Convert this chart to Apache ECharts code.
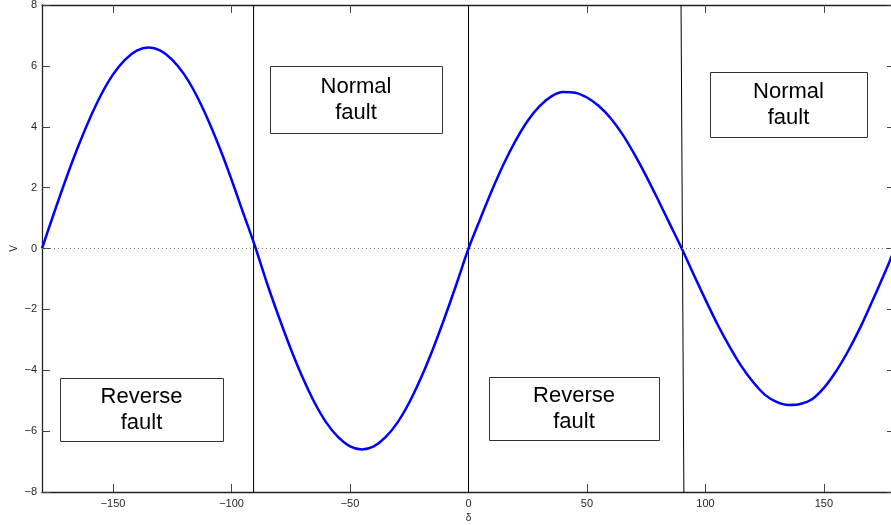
<!DOCTYPE html>
<html>
<head>
<meta charset="utf-8">
<script src="https://cdn.jsdelivr.net/npm/echarts@6/dist/echarts.min.js"></script>
<style>
  html, body { margin: 0; padding: 0; background: #fff; }
  #chart { width: 891px; height: 525px; }
</style>
</head>
<body>
<div id="chart"></div>
<script>
// delta (deg) and V
var delta = [-180,-175,-170,-165,-160,-155,-150,-145,-140,-135,-130,-125,-120,-115,-110,-105,-100,-95,-90,
  -85,-80,-75,-70,-65,-60,-55,-50,-45,-40,-35,-30,-25,-20,-15,-10,-5,0,
  5,10,15,20,25,30,35,40,45,50,55,60,65,70,75,80,85,90,
  95,100,105,110,115,120,125,130,135,140,145,150,155,160,165,170,175,180];
var V = [0,1.15,2.26,3.30,4.24,5.06,5.72,6.20,6.50,6.60,6.50,6.20,5.72,5.06,4.24,3.30,2.26,1.15,0.05,
  -1.15,-2.26,-3.30,-4.24,-5.06,-5.72,-6.20,-6.50,-6.60,-6.50,-6.20,-5.72,-5.06,-4.24,-3.30,-2.26,-1.15,0,
  0.98,1.93,2.80,3.56,4.20,4.68,5.00,5.14,5.12,4.96,4.68,4.28,3.75,3.10,2.38,1.60,0.80,0,
  -0.85,-1.68,-2.48,-3.20,-3.85,-4.38,-4.80,-5.04,-5.14,-5.11,-4.95,-4.58,-4.05,-3.40,-2.65,-1.80,-0.92,0];

// fault boundaries (top x, bottom x)
var boundaryTop = [-90.7, 0, 89.7];
var boundaryBottom = [-90.7, 0, 90.9];

var xTicks = [-150, -100, -50, 0, 50, 100, 150];
var boxLabels = ['Normal\nfault', 'Normal\nfault', 'Reverse\nfault', 'Reverse\nfault'];
var boxRects = [[270, 66, 172, 67], [710, 72, 157, 65], [60, 378, 163, 63], [489, 377, 170, 63]];

var chart = echarts.init(document.getElementById('chart'));

var font = 'Liberation Sans, Arial, Helvetica, sans-serif';
var minus = function (v) { return String(v).replace('-', '\u2212'); };

var curve = delta.map(function (d, i) { return [d, V[i]]; });

var series = [];
boundaryTop.forEach(function (t, i) {
  series.push({
    type: 'line',
    data: [[t, 8], [boundaryBottom[i], -8]],
    symbol: 'none',
    silent: true,
    lineStyle: { color: '#000', width: 1 },
    z: 2
  });
});
series.push({
  type: 'line',
  data: curve,
  symbol: 'none',
  smooth: 0.3,
  lineStyle: { color: '#0000ff', width: 2.5 },
  z: 3,
  markLine: {
    silent: true,
    symbol: 'none',
    label: { show: false },
    lineStyle: { color: '#777', type: [1, 3], width: 1 },
    data: [{ yAxis: 0 }]
  }
});

var graphics = boxRects.map(function (r, i) {
  return {
    type: 'group',
    z: 100,
    children: [
      {
        type: 'rect',
        shape: { x: r[0] + 0.5, y: r[1] + 0.5, width: r[2], height: r[3] },
        style: { fill: '#fff', stroke: '#333', lineWidth: 1 }
      },
      {
        type: 'text',
        x: r[0] + r[2] / 2,
        y: r[1] + r[3] / 2,
        style: {
          text: boxLabels[i],
          fontSize: 22,
          fontFamily: font,
          lineHeight: 26,
          fill: '#000',
          align: 'center',
          verticalAlign: 'middle'
        }
      }
    ]
  };
});

var axisLine = { show: true, onZero: false, lineStyle: { color: '#222', width: 1.3 } };

var option = {
  animation: false,
  grid: { left: 42, top: 5, width: 853, height: 487, containLabel: false, outerBoundsMode: 'none' },
  xAxis: [
    {
      type: 'value', min: -180, max: 180,
      name: '\u03b4', nameLocation: 'middle', nameGap: 21, nameMoveOverlap: false,
      nameTextStyle: { fontSize: 10, color: '#262626', fontFamily: font },
      axisLine: axisLine,
      axisTick: { inside: true, length: 8, lineStyle: { color: '#444' }, customValues: xTicks },
      axisLabel: { fontSize: 11, color: '#262626', fontFamily: font, margin: 6, customValues: xTicks, formatter: minus },
      splitLine: { show: false }
    },
    {
      type: 'value', position: 'top', min: -180, max: 180,
      axisLine: axisLine,
      axisTick: { inside: true, length: 8, lineStyle: { color: '#444' }, customValues: xTicks },
      axisLabel: { show: false },
      splitLine: { show: false }
    }
  ],
  yAxis: [
    {
      type: 'value', min: -8, max: 8, interval: 2,
      name: 'V', nameLocation: 'middle', nameGap: 23, nameRotate: 90, nameMoveOverlap: false,
      nameTextStyle: { fontSize: 10, color: '#262626', fontFamily: font },
      axisLine: axisLine,
      axisTick: { show: true, inside: true, length: 8, lineStyle: { color: '#444' } },
      axisLabel: { fontSize: 11, color: '#262626', fontFamily: font, margin: 5, formatter: minus },
      splitLine: { show: false }
    },
    {
      type: 'value', position: 'right', min: -8, max: 8, interval: 2,
      axisLine: axisLine,
      axisTick: { show: true, inside: true, length: 8, lineStyle: { color: '#444' } },
      axisLabel: { show: false },
      splitLine: { show: false }
    }
  ],
  series: series,
  graphic: graphics
};

chart.setOption(option);
</script>
</body>
</html>
